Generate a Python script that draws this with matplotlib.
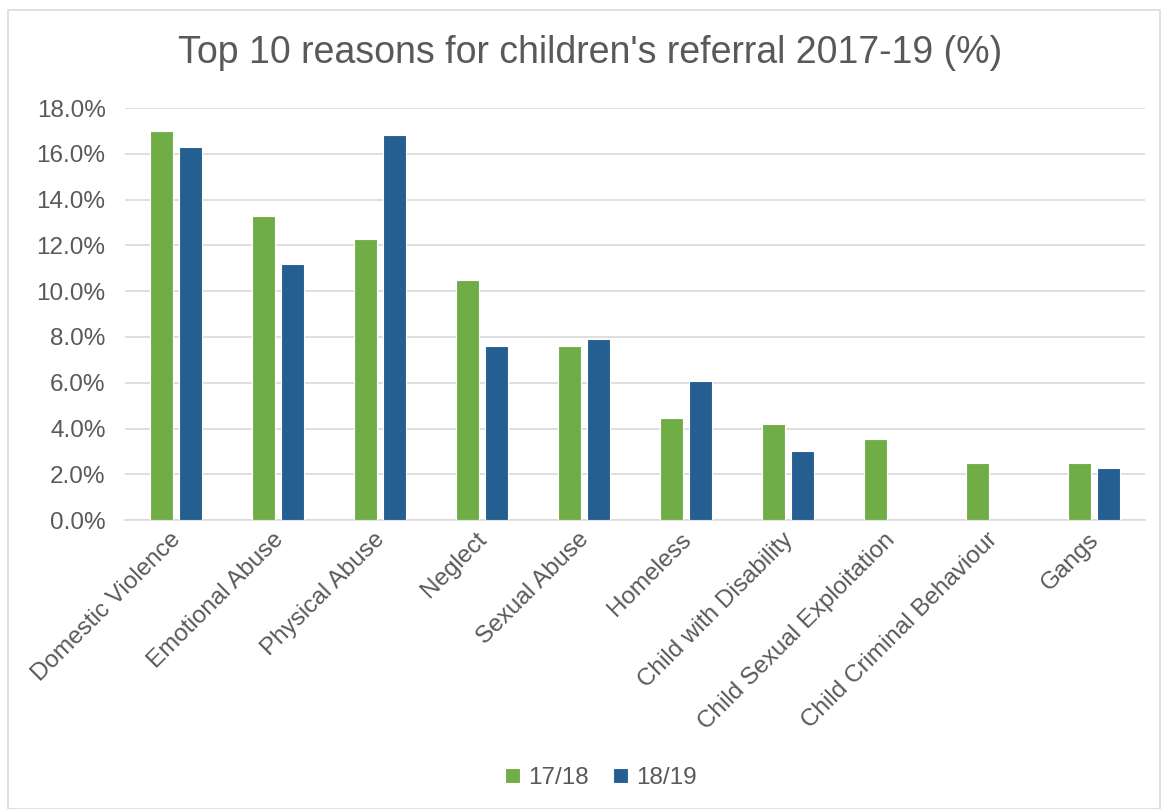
import matplotlib.pyplot as plt
import numpy as np
import matplotlib.transforms as mtransforms
from matplotlib.patches import Rectangle
from matplotlib.ticker import PercentFormatter

plt.rcParams['font.family'] = ['Liberation Sans', 'DejaVu Sans']

categories = ['Domestic Violence', 'Emotional Abuse', 'Physical Abuse', 'Neglect',
              'Sexual Abuse', 'Homeless', 'Child with Disability',
              'Child Sexual Exploitation', 'Child Criminal Behaviour', 'Gangs']
y1718 = [17.0, 13.3, 12.3, 10.5, 7.6, 4.45, 4.2, 3.55, 2.5, 2.5]
y1819 = [16.3, 11.2, 16.8, 7.6, 7.9, 6.1, 3.0, 0, 0, 2.3]

green = '#70AD47'
blue = '#255E91'
text_col = '#595959'

fig = plt.figure(figsize=(11.63, 8.09), dpi=100)
ax = fig.add_axes([0.1075, 0.357, 0.877, 0.5095])

x = np.arange(len(categories))
w = 0.23
ax.bar(x - 0.14, y1718, w, color=green, edgecolor='white', linewidth=0.8, label='17/18', zorder=3)
ax.bar(x + 0.14, y1819, w, color=blue, edgecolor='white', linewidth=0.8, label='18/19', zorder=3)

ax.set_xlim(-0.5, len(categories) - 0.5)
ax.set_ylim(0, 18)
ax.set_yticks(np.arange(0, 18.1, 2))
ax.yaxis.set_major_formatter(PercentFormatter(decimals=1))
ax.grid(axis='y', color='#D9D9D9', linewidth=1.2, zorder=0)
for s in ['top', 'right', 'left']:
    ax.spines[s].set_visible(False)
ax.spines['bottom'].set_color('#D9D9D9')
ax.spines['bottom'].set_linewidth(1.2)
ax.tick_params(length=0, labelsize=17.5, colors=text_col)
ax.tick_params(axis='y', pad=14)
ax.tick_params(axis='x', pad=6)
ax.set_xticks(x)
ax.set_xticklabels(categories, rotation=45, ha='right', rotation_mode='anchor')
shift = mtransforms.ScaledTranslation(-6 / 100, 0, fig.dpi_scale_trans)
for lab in ax.get_xticklabels():
    lab.set_transform(lab.get_transform() + shift)

fig.text(0.507, 0.935, "Top 10 reasons for children's referral 2017-19 (%)",
         ha='center', va='center', fontsize=27, color=text_col)

fig.legend(loc='center', bbox_to_anchor=(0.517, 0.038), ncol=2, frameon=False,
           fontsize=17.5, labelcolor=text_col, handlelength=0.6, handleheight=0.6,
           handletextpad=0.35, columnspacing=1.0)

fig.patches.append(Rectangle((0.007, 0.0), 0.99, 0.988, transform=fig.transFigure,
                             fill=False, edgecolor='#D9D9D9', linewidth=1.2))

fig.savefig('out.png', dpi=100)
